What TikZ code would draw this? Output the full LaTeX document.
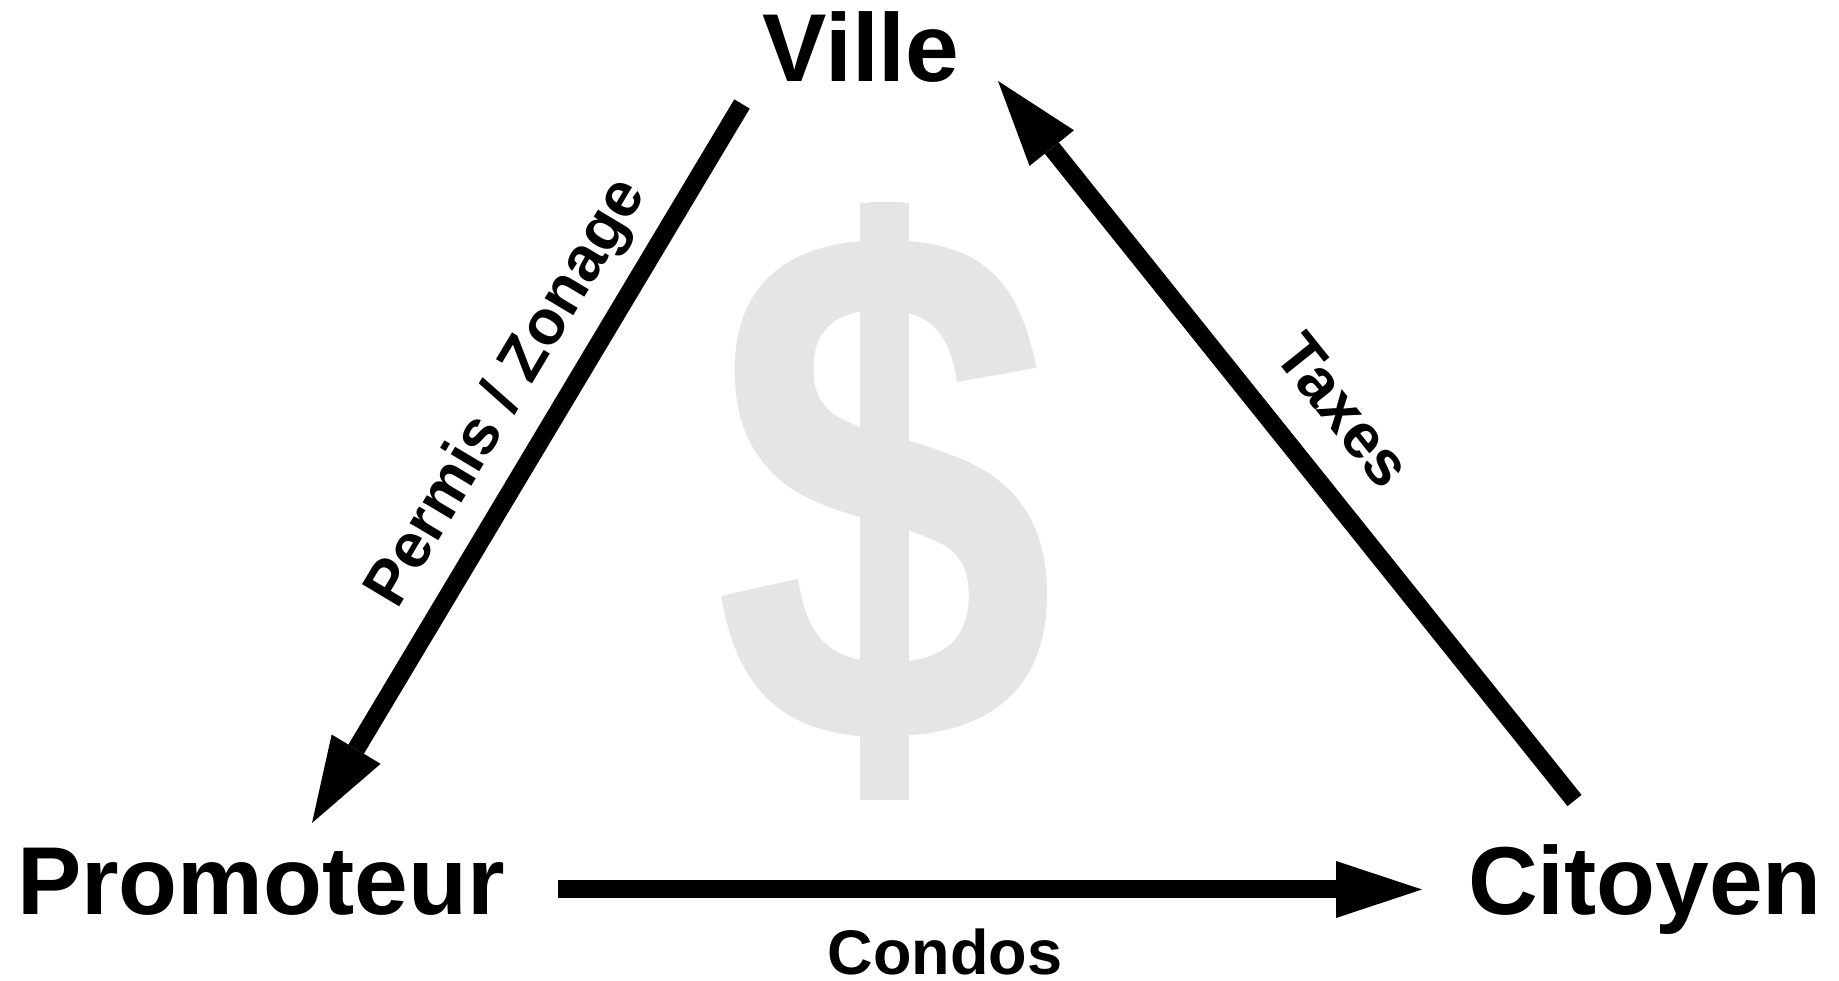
\documentclass[tikz,border=0pt]{standalone}
\usepackage{fontspec}
\setmainfont{Liberation Sans}
\usepackage{tikz}
\usetikzlibrary{arrows.meta}

\begin{document}
\begin{tikzpicture}[
        x=1pt, y=1pt,
        actor/.style={inner sep=0pt, anchor=base, font=\fontsize{96.5}{100}\selectfont\bfseries},
        lbl/.style={inner sep=0pt, anchor=base, font=\fontsize{63}{66}\selectfont\bfseries},
        flow/.style={line width=18pt, -{Triangle[length=86pt,width=57pt,line width=0pt]}},
        money/.style={inner sep=0pt, text=gray!20, xscale=0.92, yscale=1.11, font=\fontsize{670}{700}\selectfont\bfseries}
      ]
      \useasboundingbox (0,0) rectangle (1839,981);
      \fill[white] (0,0) rectangle (1839,981);
      % Dollar in the back
      \begin{scope}
        \clip (600,181) rectangle (1200,778);
        \node[money] (dollar) at (884.5,485) {\$};
      \end{scope}
      \fill[gray!20] (860,181) rectangle (909,778);
      % Actors
      \node[actor] (ville) at (861,899) {Ville};
      \node[actor] (promoteur) at (261,66.5) {Promoteur};
      \node[actor] (citoyen) at (1645,66.5) {Citoyen};
      % Arrow ends
      \coordinate (ville-out) at (742,877);
      \coordinate (prom-in) at (312,158);
      \coordinate (prom-out) at (558,91.5);
      \coordinate (cit-in) at (1422,91.5);
      \coordinate (cit-out) at (1574.5,180.5);
      \coordinate (ville-in) at (998,900);
      % Flows
      \draw[flow] (ville-out) -- node[lbl, sloped, pos=0.44, yshift=36pt] (permis) {Permis / Zonage} (prom-in);
      \draw[flow] (prom-out) -- node[lbl, pos=0.448, yshift=-85pt] (condos) {Condos} (cit-in);
      \draw[flow] (cit-out) -- node[lbl, sloped, pos=0.487, yshift=42pt] (taxes) {Taxes} (ville-in);
    \end{tikzpicture}
\end{document}
